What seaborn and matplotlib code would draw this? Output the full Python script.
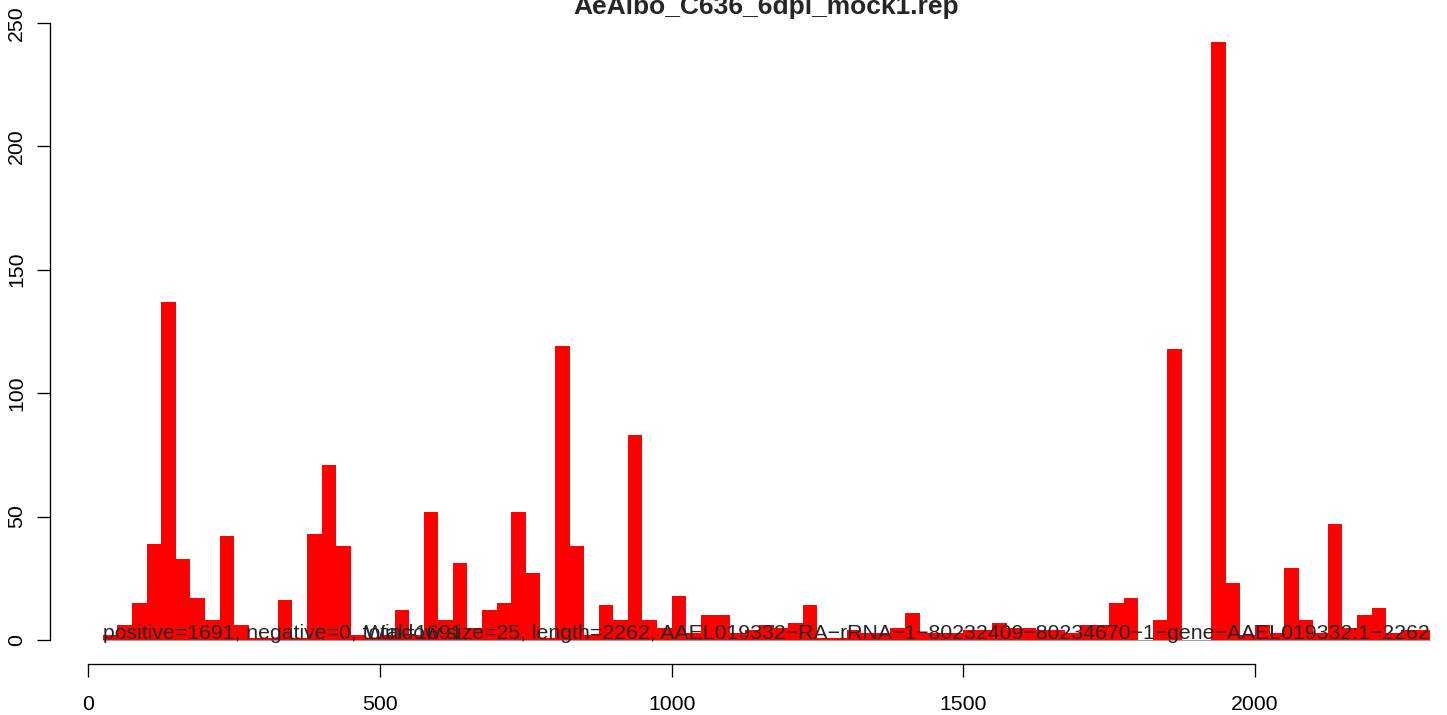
import numpy as np
import pandas as pd
import seaborn as sns
import matplotlib
matplotlib.use("Agg")
import matplotlib.pyplot as plt

# Data: reads per 25 nt window along the transcript
window = 25
seq_length = 2262
pos_counts = [0, 2, 6, 15, 39, 137, 33, 17, 8, 42,
              6, 1, 1, 16, 1, 43, 71, 38, 2, 1,
              2, 12, 2, 52, 8, 31, 5, 12, 15, 52,
              27, 1, 119, 38, 2, 14, 8, 83, 8, 5,
              18, 3, 10, 10, 3, 4, 6, 5, 7, 14,
              1, 1, 4, 3, 3, 5, 11, 3, 3, 3,
              4, 4, 7, 5, 5, 4, 4, 3, 6, 6,
              15, 17, 0, 8, 118, 0, 0, 242, 23, 2,
              6, 3, 29, 8, 3, 47, 5, 10, 13, 3,
              4, 4]
# the only negative-strand mark visible (a line at the baseline)
neg_start = [425]
neg_height = [-0.4]

title = "AeAlbo_C636_6dpi_mock1.rep"
info_left = "positive=1691, negative=0, total=1691"
info_right = ("Window size=25, length=2262, AAEL019332\u2212RA\u2212rRNA\u22121\u2212"
              "80232409\u221280234670\u22121\u2212gene\u2212AAEL019332:1\u22122262")

starts = np.arange(len(pos_counts)) * window
end = int(starts[-1] + window)
df = pd.DataFrame({"start": starts + window / 2, "count": pos_counts})

sns.set_style("ticks")
plt.rcParams["font.family"] = ["Liberation Sans", "DejaVu Sans"]
fs = 15.3

fig = plt.figure(figsize=(14.47, 7.15), dpi=100)
ax = fig.add_axes([0.03442, 0.07147, 0.99046, 0.90252])

sns.histplot(data=df, x="start", weights="count", binwidth=window,
             binrange=(0, end), color="#ff0000", alpha=1, linewidth=0, ax=ax)
ax.bar(np.array(neg_start) + window / 2, neg_height, width=window, color="blue",
       linewidth=0)
ax.plot([window, end], [0, 0], color="#a0a0a0", lw=0.7)

ax.text(window, 0.4, info_left, ha="left", va="baseline", fontsize=fs)
ax.text(end, 0.4, info_right, ha="right", va="baseline", fontsize=fs)

ax.set_xlim(-66, 2391)
ax.set_ylim(-9.68, 251.68)
ax.set_xticks([0, 500, 1000, 1500, 2000])
ax.set_yticks([0, 50, 100, 150, 200, 250])
ax.set(xlabel="", ylabel="")
ax.set_title(title, fontsize=19, fontweight="bold", pad=1.5)

for side in ["top", "right"]:
    ax.spines[side].set_visible(False)
ax.spines["left"].set_bounds(0, 250)
ax.spines["bottom"].set_bounds(0, 2000)
for side in ["left", "bottom"]:
    ax.spines[side].set_linewidth(0.95)
    ax.spines[side].set_color("black")

ax.tick_params(axis="both", direction="out", length=9.6, width=0.95,
               colors="black", labelsize=fs)
ax.tick_params(axis="x", pad=12.5)
ax.tick_params(axis="y", pad=7.5, labelrotation=90)
for lbl in ax.get_yticklabels():
    lbl.set_va("center")

fig.savefig("out.png", dpi=100)
